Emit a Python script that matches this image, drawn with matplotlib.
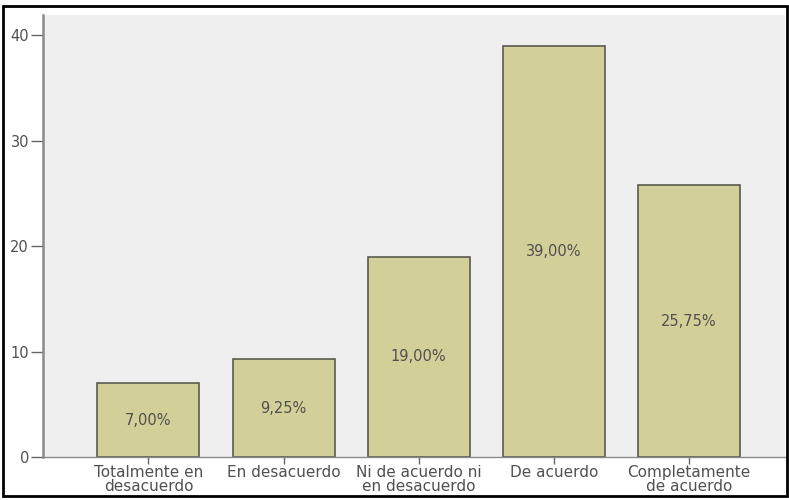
import matplotlib
matplotlib.use("Agg")
import matplotlib.pyplot as plt
from matplotlib.patches import Rectangle

# --- data ---
categories = ["Totalmente en\ndesacuerdo", "En desacuerdo", "Ni de acuerdo ni\nen desacuerdo",
              "De acuerdo", "Completamente\nde acuerdo"]
percent = [7.00, 9.25, 19.00, 39.00, 25.75]
y_ticks = [0, 10, 20, 30, 40]

BAR_COLOR = "#d3cf98"
EDGE_COLOR = "#5a5a50"
BG_COLOR = "#efefef"
TEXT_COLOR = "#505050"

plt.rcParams['font.family'] = ['DejaVu Sans']

fig = plt.figure(figsize=(7.89, 5.0), dpi=100)
fig.patch.set_facecolor("white")
ax = fig.add_axes([43 / 789, 43 / 500, (785 - 43) / 789, (457 - 15) / 500])
ax.set_facecolor(BG_COLOR)

xs = list(range(len(categories)))
ax.bar(xs, percent, width=0.755, color=BAR_COLOR, edgecolor=EDGE_COLOR, linewidth=1.2, zorder=2)

# percentage labels in the middle of each bar
for x, v in zip(xs, percent):
    ax.text(x, v / 2, f"{v:.2f}%".replace(".", ","), ha="center", va="center",
            fontsize=10.5, color=TEXT_COLOR, zorder=3)

ax.set_xlim(-0.78, 4.71)
ax.set_ylim(0, 41.9)
ax.set_yticks(y_ticks)
ax.set_yticklabels([str(t) for t in y_ticks])
ax.set_xticks(xs)
ax.set_xticklabels(categories, linespacing=0.9)

ax.tick_params(axis="y", direction="out", length=9, width=1, color="#666666",
               labelsize=10.5, labelcolor=TEXT_COLOR, pad=1)
ax.tick_params(axis="x", direction="out", length=5, width=1, color="#666666",
               labelsize=11, labelcolor=TEXT_COLOR, pad=1)

for side in ["top", "right"]:
    ax.spines[side].set_visible(False)
ax.spines["left"].set_color("#8a8a8a")
ax.spines["left"].set_linewidth(1.8)
ax.spines["bottom"].set_color("#8a8a8a")
ax.spines["bottom"].set_linewidth(1.0)

# black frame around the whole figure
fig.patches.append(Rectangle((3 / 789, 4 / 500), 784 / 789, 490 / 500, transform=fig.transFigure,
                             fill=False, edgecolor="black", linewidth=2, zorder=10))

fig.savefig("out.png", dpi=100)
